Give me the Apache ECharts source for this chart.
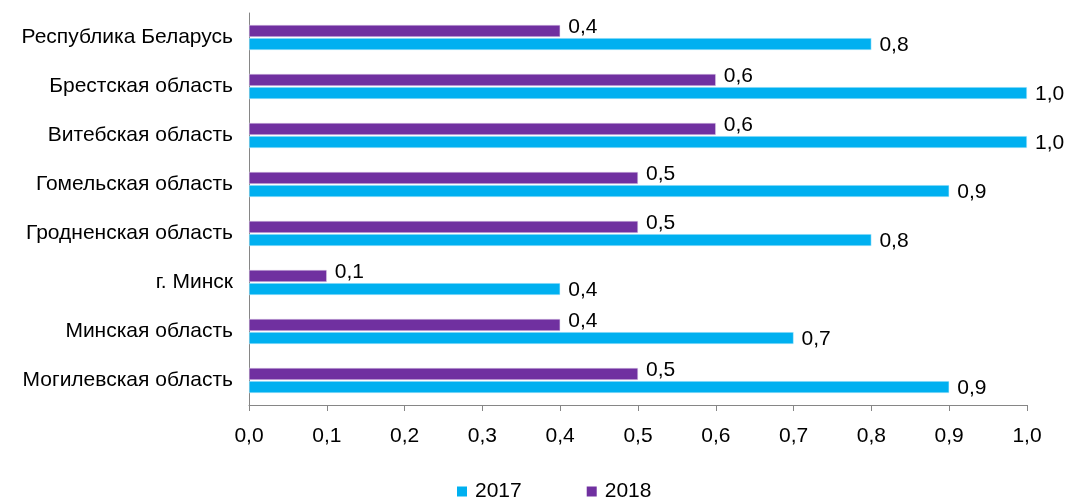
<!DOCTYPE html>
<html>
<head>
<meta charset="utf-8">
<script src="https://cdn.jsdelivr.net/npm/echarts@6/dist/echarts.min.js"></script>
<style>
  html, body { margin: 0; padding: 0; background: #fff; }
  #chart { width: 1066px; height: 502px; }
</style>
</head>
<body>
<div id="chart"></div>
<script>
const regions = [
  'Республика Беларусь',
  'Брестская область',
  'Витебская область',
  'Гомельская область',
  'Гродненская область',
  'г. Минск',
  'Минская область',
  'Могилевская область'
]
const values2017 = [0.8, 1.0, 1.0, 0.9, 0.8, 0.4, 0.7, 0.9]
const values2018 = [0.4, 0.6, 0.6, 0.5, 0.5, 0.1, 0.4, 0.5]

const font = 'Liberation Sans, Arial, sans-serif'
const fmt = v => Number(v).toFixed(1).replace('.', ',')

let myChart = echarts.init(document.getElementById('chart'))
myChart.setOption({
  animation: false,
  textStyle: { fontFamily: font },
  grid: { left: 249, right: 39, top: 13, bottom: 97 },
  legend: {
    data: ['2017', '2018'],
    left: 457,
    top: 481,
    padding: 0,
    icon: 'rect',
    itemWidth: 10,
    itemHeight: 10,
    itemGap: 65,
    itemStyle: { borderWidth: 0 },
    textStyle: { fontSize: 21, color: '#000', fontFamily: font, padding: [0, 0, 0, 3] }
  },
  xAxis: {
    type: 'value',
    min: 0,
    max: 1,
    interval: 0.1,
    axisLine: { show: true, lineStyle: { color: '#868686' } },
    axisTick: { show: true, length: 6, lineStyle: { color: '#868686' } },
    splitLine: { show: false },
    axisLabel: {
      fontSize: 21,
      color: '#000',
      margin: 21,
      formatter: fmt
    }
  },
  yAxis: {
    type: 'category',
    inverse: true,
    data: regions,
    axisLine: { lineStyle: { color: '#868686' } },
    axisTick: { length: 6, lineStyle: { color: '#868686' } },
    axisLabel: { fontSize: 21, color: '#000', margin: 16 }
  },
  series: [
    {
      name: '2018',
      type: 'bar',
      data: values2018,
      barWidth: 12,
      barGap: '10%',
      itemStyle: { color: '#7030A0', borderColor: '#e6dcee', borderWidth: 0.5 },
      label: {
        show: true,
        position: 'right',
        distance: 8,
        offset: [0, -4],
        fontSize: 21,
        color: '#000',
        formatter: p => fmt(p.value)
      }
    },
    {
      name: '2017',
      type: 'bar',
      data: values2017,
      barWidth: 12,
      barGap: '10%',
      itemStyle: { color: '#00B0F0', borderColor: '#d6f2fc', borderWidth: 0.5 },
      label: {
        show: true,
        position: 'right',
        distance: 8,
        offset: [0, 1],
        fontSize: 21,
        color: '#000',
        formatter: p => fmt(p.value)
      }
    }
  ]
})
</script>
</body>
</html>
